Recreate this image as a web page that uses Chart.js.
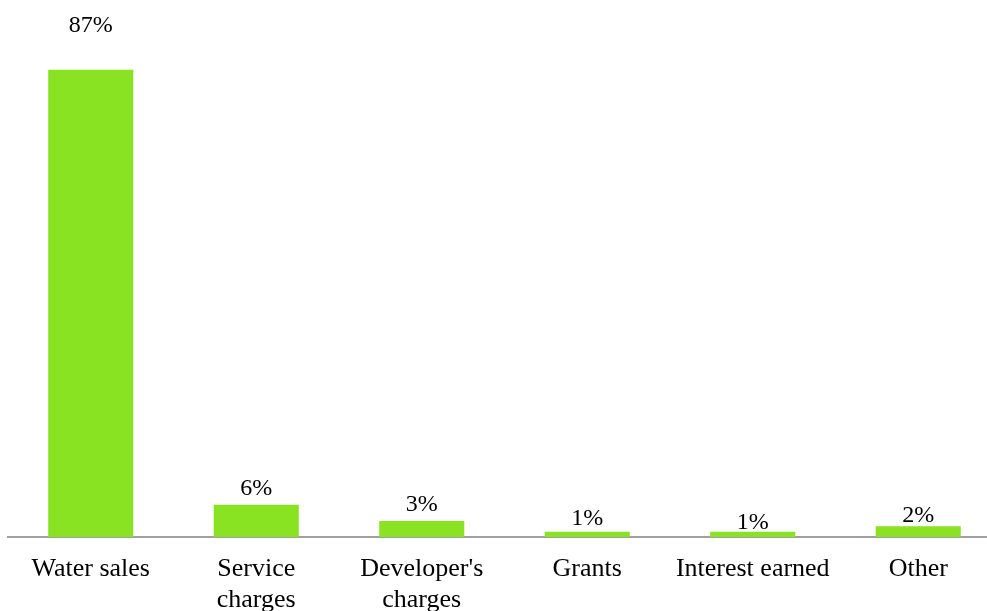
<!DOCTYPE html>
<html lang="en">
<head>
    <meta charset="UTF-8">
    <title>Revenue Sources</title>
    <script src="https://cdn.jsdelivr.net/npm/chart.js"></script>
    <style>
        html, body { margin: 0; padding: 0; background: #fff; overflow: hidden; }
        #wrap { width: 1001px; height: 611px; }
    </style>
</head>
<body>
    <div id="wrap">
        <canvas id="revenueChart" width="1001" height="611"></canvas>
    </div>

    <script>
        // Chart data
        const categories = ['Water sales', ['Service', 'charges'], ["Developer's", 'charges'], 'Grants', 'Interest earned', 'Other'];
        const shares = [87, 6, 3, 1, 1, 2];
        const shareLabels = ['87%', '6%', '3%', '1%', '1%', '2%'];

        // Draws the percentage text above each bar
        const valueLabels = {
            id: 'valueLabels',
            afterDatasetsDraw(chart, args, opts) {
                const ctx = chart.ctx;
                const bars = chart.getDatasetMeta(0).data;
                ctx.save();
                ctx.font = '24px "Liberation Serif", "Times New Roman", serif';
                ctx.fillStyle = '#000';
                ctx.textAlign = 'center';
                ctx.textBaseline = 'alphabetic';
                bars.forEach((bar, i) => {
                    ctx.fillText(shareLabels[i], bar.x, bar.y - opts.gaps[i]);
                });
                ctx.restore();
            }
        };

        const ctx = document.getElementById('revenueChart').getContext('2d');
        const revenueChart = new Chart(ctx, {
            type: 'bar',
            data: {
                labels: categories,
                datasets: [{
                    data: shares,
                    backgroundColor: '#89E323',
                    borderWidth: 0,
                    barPercentage: 0.514,
                    categoryPercentage: 1
                }]
            },
            options: {
                responsive: false,
                animation: false,
                layout: { padding: { left: 8, right: 0, top: 0, bottom: 0 } },
                plugins: {
                    legend: { display: false },
                    tooltip: { enabled: false },
                    valueLabels: { gaps: [38, 10, 10, 7, 3, 4] }
                },
                scales: {
                    y: {
                        display: false,
                        min: 0,
                        max: 100
                    },
                    x: {
                        grid: { display: false, drawTicks: false },
                        border: { display: true, color: '#A0A0A0', width: 2 },
                        ticks: {
                            color: '#000',
                            padding: 16,
                            maxRotation: 0,
                            autoSkip: false,
                            font: { family: '"Liberation Serif", "Times New Roman", serif', size: 26, lineHeight: 1.22 }
                        },
                        afterFit(scale) { scale.height = 74; }
                    }
                }
            },
            plugins: [valueLabels]
        });
    </script>
</body>
</html>
